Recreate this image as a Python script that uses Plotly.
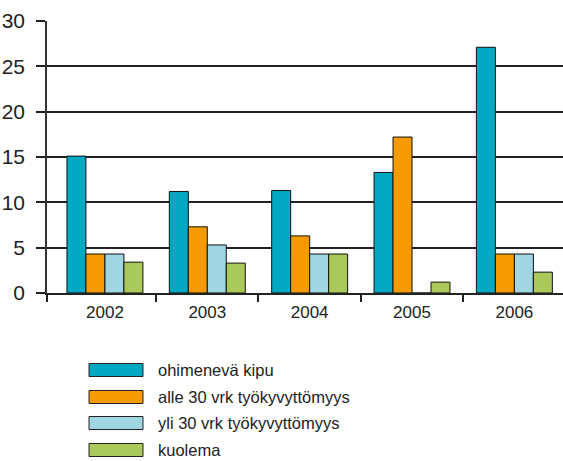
import plotly.graph_objects as go

years = [2002, 2003, 2004, 2005, 2006]
series_names = ["ohimenevä kipu", "alle 30 vrk työkyvyttömyys", "yli 30 vrk työkyvyttömyys", "kuolema"]
ohimeneva_kipu = [15.1, 11.2, 11.3, 13.3, 27.1]
alle_30 = [4.3, 7.3, 6.3, 17.2, 4.3]
yli_30 = [4.3, 5.3, 4.3, 0, 4.3]
kuolema = [3.4, 3.3, 4.3, 1.2, 2.3]
colors = ["#00a9c1", "#f59a00", "#a0d6e1", "#a9c95a"]
y_ticks = [0, 5, 10, 15, 20, 25, 30]

FONT = "Liberation Sans, Arial, sans-serif"

W, H = 563, 461
L, R, T, B = 47, 0, 21, 461 - 293
X_MIN, X_MAX = 2001.434, 2006.475

fig = go.Figure()
for name, vals, col in zip(series_names, [ohimeneva_kipu, alle_30, yli_30, kuolema], colors):
    fig.add_trace(go.Bar(
        x=years, y=vals, name=name, marker=dict(color=col, line=dict(color="#111", width=1)),
        showlegend=False,
    ))

# manual legend (wide swatches); positions given in picture pixels
pw, ph = W - L - R, H - T - B
def px2x(px):
    return (px - L) / pw
def py2y(py):
    return (H - B - py) / ph

row_centers = [370, 397, 423, 450]
for name, col, cy in zip(series_names, colors, row_centers):
    fig.add_shape(type="rect", xref="paper", yref="paper",
                  x0=px2x(89), x1=px2x(143), y0=py2y(cy + 6.5), y1=py2y(cy - 6.5),
                  fillcolor=col, line=dict(color="#222", width=1))
    fig.add_annotation(xref="paper", yref="paper", x=px2x(156), y=py2y(cy),
                       text=name, showarrow=False, xanchor="left", yanchor="middle",
                       font=dict(family=FONT, size=16.5, color="#222"))

boundaries = [X_MIN + 0.003] + [y + 0.5 for y in years[:-1]]

fig.update_layout(
    width=W, height=H,
    margin=dict(l=L, r=R, t=T, b=B, autoexpand=False),
    paper_bgcolor="white", plot_bgcolor="white",
    barmode="group", bargap=0.258, bargroupgap=0,
    font=dict(family=FONT, color="#222"),
    xaxis=dict(
        range=[X_MIN, X_MAX], automargin=False,
        tickmode="array", tickvals=years, ticktext=[str(y) for y in years],
        ticks="", showgrid=False, zeroline=False,
        showline=True, linecolor="#222", linewidth=1.5,
        tickfont=dict(family=FONT, size=17, color="#222"),
        ticklabelstandoff=3,
        minor=dict(tickmode="array", tickvals=boundaries,
                   ticks="outside", ticklen=7, tickcolor="#222", tickwidth=1.5, showgrid=False),
    ),
    yaxis=dict(
        range=[0, 30], tickmode="array", tickvals=y_ticks, automargin=False,
        ticks="outside", ticklen=9, tickcolor="#222", tickwidth=1.5,
        showgrid=True, gridcolor="#222", gridwidth=1.5,
        zeroline=False, showline=True, linecolor="#333", linewidth=1.5,
        tickfont=dict(family=FONT, size=21, color="#222"),
        ticklabelstandoff=7,
    ),
)

fig.write_html("out.html", config={"displayModeBar": False},
               post_script="document.body.style.margin='0';")
